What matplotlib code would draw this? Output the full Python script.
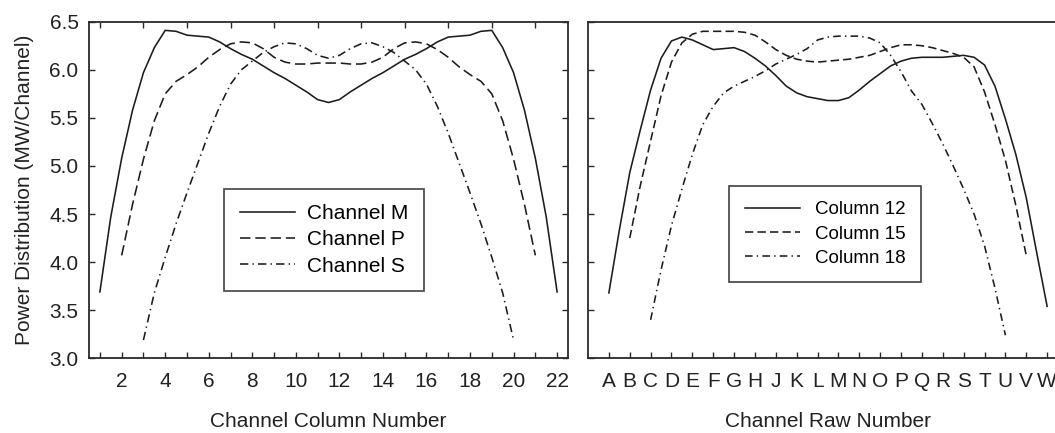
import numpy as np
import matplotlib
matplotlib.use("Agg")
import matplotlib.pyplot as plt

plt.rcParams['font.family'] = ['Liberation Sans', 'DejaVu Sans']
plt.rcParams['lines.scale_dashes'] = False

# ---- left panel: power along the channel columns -------------------------
col_x_m = np.arange(1, 22.01, 0.5)
col_x_p = np.arange(2, 21.01, 0.5)
col_x_s = np.arange(3, 20.01, 0.5)

channel_m = [3.69, 4.47, 5.08, 5.58, 5.97, 6.23, 6.41, 6.40, 6.36, 6.35, 6.34,
             6.29, 6.22, 6.16, 6.11, 6.04, 5.97, 5.91, 5.84, 5.77, 5.69, 5.66,
             5.69, 5.77, 5.84, 5.91, 5.97, 6.04, 6.11, 6.16, 6.22, 6.29, 6.34,
             6.35, 6.36, 6.40, 6.41, 6.23, 5.97, 5.58, 5.08, 4.47, 3.69]
channel_p = [4.07, 4.60, 5.07, 5.47, 5.75, 5.88, 5.95, 6.03, 6.13, 6.21, 6.27,
             6.29, 6.28, 6.22, 6.13, 6.08, 6.06, 6.06, 6.07, 6.07, 6.07, 6.06,
             6.06, 6.08, 6.13, 6.22, 6.28, 6.29, 6.27, 6.21, 6.13, 6.03, 5.95,
             5.88, 5.75, 5.47, 5.07, 4.60, 4.07]
channel_s = [3.19, 3.68, 4.05, 4.40, 4.72, 5.03, 5.34, 5.62, 5.85, 6.00, 6.09,
             6.18, 6.24, 6.28, 6.27, 6.22, 6.15, 6.12, 6.15, 6.22, 6.27, 6.28,
             6.24, 6.18, 6.09, 6.00, 5.85, 5.62, 5.34, 5.03, 4.72, 4.40, 4.05,
             3.68, 3.19]

# ---- right panel: power along the channel rows ---------------------------
row_letters = list("ABCDEFGHJKLMNOPQRSTUVW")
row_x_12 = np.arange(1, 22.01, 0.5)
row_x_15 = np.arange(2, 21.01, 0.5)
row_x_18 = np.arange(3, 20.01, 0.5)

column_12 = [3.68, 4.33, 4.93, 5.37, 5.79, 6.12, 6.30, 6.34, 6.31, 6.26, 6.21,
             6.22, 6.23, 6.19, 6.12, 6.04, 5.94, 5.83, 5.76, 5.72, 5.70, 5.68,
             5.68, 5.71, 5.79, 5.88, 5.96, 6.04, 6.09, 6.12, 6.13, 6.13, 6.13,
             6.14, 6.15, 6.13, 6.05, 5.83, 5.49, 5.12, 4.67, 4.10, 3.54]
column_15 = [4.25, 4.79, 5.26, 5.73, 6.08, 6.28, 6.37, 6.40, 6.40, 6.40, 6.40,
             6.39, 6.36, 6.29, 6.21, 6.15, 6.11, 6.09, 6.08, 6.09, 6.10, 6.11,
             6.13, 6.15, 6.19, 6.23, 6.26, 6.26, 6.25, 6.23, 6.20, 6.17, 6.13,
             6.03, 5.77, 5.43, 5.06, 4.59, 4.07]
column_18 = [3.40, 3.92, 4.38, 4.76, 5.12, 5.43, 5.62, 5.76, 5.83, 5.88, 5.93,
             5.99, 6.06, 6.11, 6.16, 6.22, 6.31, 6.34, 6.35, 6.35, 6.35, 6.33,
             6.28, 6.15, 5.98, 5.78, 5.64, 5.44, 5.23, 5.00, 4.76, 4.50, 4.17,
             3.73, 3.24]

y_ticks = [3.0, 3.5, 4.0, 4.5, 5.0, 5.5, 6.0, 6.5]

INK = '#1c1c1c'
FRAME = '#2a2a2a'
TXT = '#222222'
FS = 15

fig = plt.figure(figsize=(10.55, 4.33), dpi=100)
W, H = 1055, 433
bottom = (H - 358.3) / H
height = 336.6 / H
ax1 = fig.add_axes([89 / W, bottom, 479 / W, height])
ax2 = fig.add_axes([588 / W, bottom, 480 / W, height])

for ax in (ax1, ax2):
    ax.set_ylim(3.0, 6.5)
    ax.set_yticks(y_ticks)
    for sp in ax.spines.values():
        sp.set_color(FRAME)
        sp.set_linewidth(1.3)
    ax.tick_params(direction='in', length=4, width=1.0, color=FRAME,
                   labelsize=FS, labelcolor=TXT)
    ax.tick_params(axis='y', pad=7.5)
    ax.tick_params(axis='x', pad=10)

# left panel
lw = 1.15
ax1.plot(col_x_m, channel_m, color=INK, lw=lw, ls='-', label='Channel M')
ax1.plot(col_x_p, channel_p, color=INK, lw=lw, ls=(0, (7.5, 3.5)), label='Channel P')
ax1.plot(col_x_s, channel_s, color=INK, lw=lw, ls=(0, (6, 3, 1, 3)), label='Channel S')
ax1.set_xlim(0.5, 22.5)
cols = list(range(1, 23))
ax1.set_xticks(cols)
ax1.set_xticklabels([str(c) if c % 2 == 0 else '' for c in cols])
ax1.tick_params(axis='y', right=True)
top = ax1.secondary_xaxis('top')
top.set_xticks([c for c in cols if c % 2 == 1])
top.tick_params(direction='in', length=4, width=1.0, color=FRAME, labeltop=False)
top.spines['top'].set_visible(False)
ax1.set_yticklabels([f'{v:.1f}' for v in y_ticks])
ax1.set_xlabel('Channel Column Number', fontsize=FS, labelpad=15, color=TXT)
ax1.set_ylabel('Power Distribution (MW/Channel)', fontsize=FS, labelpad=11, color=TXT)

leg1 = ax1.legend(loc='center', bbox_to_anchor=(0.4906, 0.3515), fontsize=15,
                  frameon=True, fancybox=False, handlelength=2.64,
                  handletextpad=0.6, borderpad=0.75, labelspacing=0.34,
                  borderaxespad=0)
leg1.get_frame().set_edgecolor('#111111')
leg1.get_frame().set_linewidth(1.2)

# right panel
ax2.plot(row_x_12, column_12, color=INK, lw=lw, ls='-', label='Column 12')
ax2.plot(row_x_15, column_15, color=INK, lw=lw, ls=(0, (6, 3)), label='Column 15')
ax2.plot(row_x_18, column_18, color=INK, lw=lw, ls=(0, (5.5, 3, 1, 3)), label='Column 18')
ax2.set_xlim(0, 23)
ax2.set_xticks(range(1, 23))
ax2.set_xticklabels(row_letters)
ax2.set_yticklabels([])
ax2.set_xlabel('Channel Raw Number', fontsize=FS, labelpad=15, color=TXT)

leg2 = ax2.legend(loc='center', bbox_to_anchor=(0.494, 0.369), fontsize=13.5,
                  frameon=True, fancybox=False, handlelength=2.93,
                  handletextpad=0.8, borderpad=0.82, labelspacing=0.38,
                  borderaxespad=0)
leg2.get_frame().set_edgecolor('#111111')
leg2.get_frame().set_linewidth(1.2)

fig.savefig('out.png', dpi=100)
